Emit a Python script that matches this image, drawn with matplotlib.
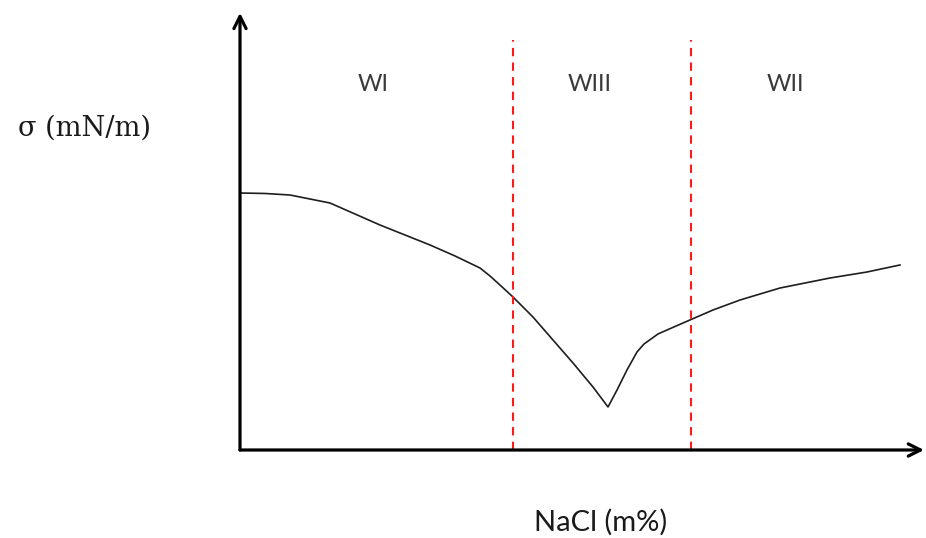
import matplotlib.pyplot as plt

# salinity scan (arbitrary units, 0-100 on both axes)
nacl = [0.0, 3.67, 7.33, 13.20, 20.53, 27.86, 31.53, 35.19, 36.66, 38.12,
        40.03, 42.96, 45.89, 48.83, 51.76, 53.96, 55.28, 56.74, 58.21, 59.24,
        61.29, 62.61, 65.98, 69.35, 73.31, 79.18, 86.51, 91.94, 96.77]
sigma = [59.08, 58.97, 58.62, 56.78, 51.72, 47.13, 44.60, 41.84, 40.00, 37.93,
         35.17, 30.57, 25.29, 20.00, 14.48, 9.89, 13.79, 18.39, 22.53, 24.37,
         26.67, 27.59, 29.89, 32.18, 34.48, 37.24, 39.54, 40.92, 42.53]

# phase boundaries and region names
boundaries = [40.03, 66.13]
regions = ["WI", "WIII", "WII"]
region_x = [19.5, 51.3, 79.9]

fig = plt.figure(figsize=(9.26, 5.38), dpi=100)
ax = fig.add_axes([240 / 926, 88 / 538, 682 / 926, 435 / 538])
ax.set_xlim(0, 100)
ax.set_ylim(0, 100)
ax.axis("off")

# axes with arrow heads
arrow = dict(arrowstyle="->", lw=2.3, color="black", mutation_scale=22,
             shrinkA=0, shrinkB=0)
ax.annotate("", xy=(100.3, 0), xytext=(0, 0), annotation_clip=False, arrowprops=arrow)
ax.annotate("", xy=(0, 100.5), xytext=(0, 0), annotation_clip=False, arrowprops=arrow)

ax.plot(nacl, sigma, color="#1e1e1e", lw=1.2, clip_on=False,
        solid_joinstyle="round")

for b in boundaries:
    ax.plot([b, b], [0, 94.25], color="#ff1a1a", lw=1.5, ls=(0, (4, 3)))

for name, x in zip(regions, region_x):
    ax.text(x, 84, name, ha="center", va="center", fontsize=17,
            family="Lato", color="#3a3a3a")

fig.text(85 / 926, 1 - 128 / 538, "σ (mN/m)", ha="center", va="center",
         fontsize=19.5, family="DejaVu Serif", color="#1a1a1a")
fig.text(601 / 926, 1 - 522 / 538, "NaCl (m%)", ha="center", va="center",
         fontsize=21, family="Lato", color="#1a1a1a")

fig.savefig("out.png", dpi=100)
